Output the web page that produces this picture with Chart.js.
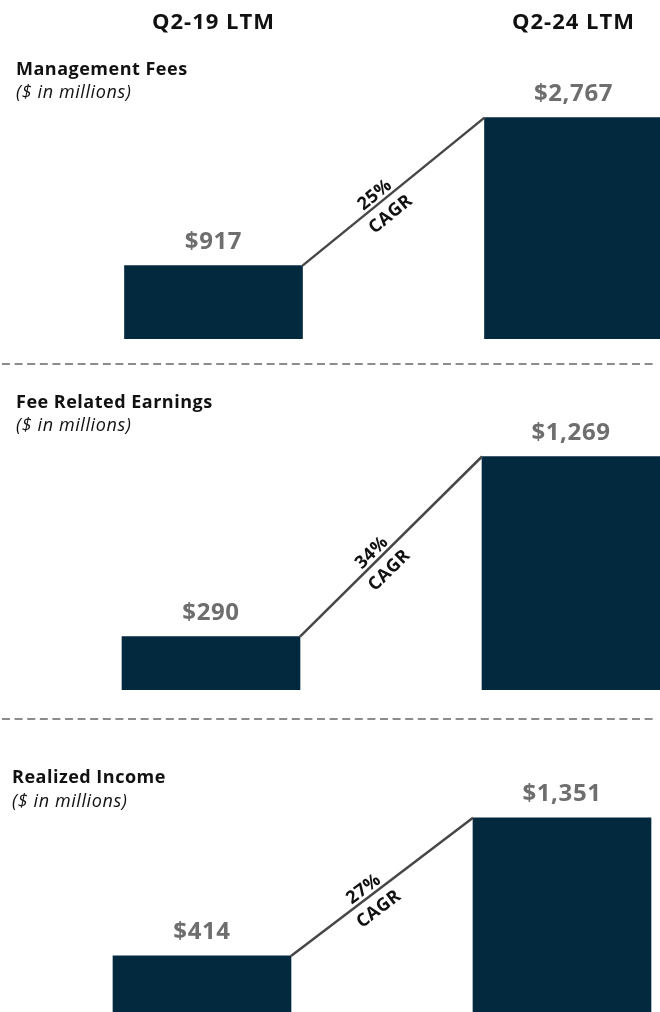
<!DOCTYPE html>
<html>
<head>
<meta charset="utf-8">
<title>Management Fees, Fee Related Earnings and Realized Income</title>
<script src="https://cdn.jsdelivr.net/npm/chart.js@4.4.1/dist/chart.umd.min.js"></script>
<style>
  html, body { margin: 0; padding: 0; background: #fff; width: 660px; height: 1012px; overflow: hidden; }
  canvas, svg { position: absolute; left: 0; top: 0; }
</style>
</head>
<body>
<canvas id="panel1" width="800" height="1030"></canvas>
<canvas id="panel2" width="800" height="1030"></canvas>
<canvas id="panel3" width="800" height="1030"></canvas>
<svg width="660" height="1012">
  <line x1="2" y1="364" x2="657" y2="364" stroke="#8c8c8c" stroke-width="2" stroke-dasharray="8 4.6"/>
  <line x1="2" y1="719" x2="657" y2="719" stroke="#8c8c8c" stroke-width="2" stroke-dasharray="8 4.6"/>
</svg>
<script>
// Periods compared and the LTM values ($ in millions)
const periods = ['Q2-19 LTM', 'Q2-24 LTM'];
const managementFees = [917, 2767];
const feeRelatedEarnings = [290, 1269];
const realizedIncome = [414, 1351];
const cagrLabels = ['25%', '34%', '27%'];
const panelTitles = ['Management Fees', 'Fee Related Earnings', 'Realized Income'];
const unitsNote = '($ in millions)';

const NAVY = '#03293f';
const FONT = '"Open Sans", "Noto Sans", sans-serif';

function fmt(v) { return '$' + v.toLocaleString('en-US'); }

function buildPanel(canvasId, values, cfg) {
  const overlay = {
    id: 'overlay_' + canvasId,
    afterDatasetsDraw(chart) {
      const ctx = chart.ctx;
      const bars = chart.getDatasetMeta(0).data;
      const a = bars[0], b = bars[1];
      const x0 = a.x + a.width / 2, y0 = a.y;
      const x1 = b.x - b.width / 2, y1 = b.y;

      ctx.save();
      // growth connector between the two bar tops
      ctx.strokeStyle = '#474747';
      ctx.lineWidth = 2.5;
      ctx.beginPath();
      ctx.moveTo(x0, y0);
      ctx.lineTo(x1, y1);
      ctx.stroke();

      // value labels above the bars
      ctx.fillStyle = '#6e6e6e';
      ctx.font = '700 24px ' + FONT;
      ctx.letterSpacing = '0.6px';
      ctx.textAlign = 'center';
      ctx.textBaseline = 'alphabetic';
      bars.forEach((bar, i) => ctx.fillText(fmt(values[i]), bar.x, bar.y - 17));

      // CAGR text along the connector
      ctx.save();
      const t = 0.43;
      ctx.translate(x0 + (x1 - x0) * t, y0 + (y1 - y0) * t);
      ctx.rotate(Math.atan2(y1 - y0, x1 - x0));
      ctx.fillStyle = '#111';
      ctx.font = '700 18px ' + FONT;
      ctx.letterSpacing = '0.4px';
      ctx.fillText(cfg.cagr, 0, -4);
      ctx.fillText('CAGR', 0, 21);
      ctx.restore();

      // panel title and units note
      ctx.textAlign = 'left';
      ctx.fillStyle = '#111';
      ctx.font = '700 18px ' + FONT;
      ctx.letterSpacing = '0.5px';
      ctx.fillText(cfg.title, cfg.textX, cfg.titleY);
      ctx.font = 'italic 400 18px ' + FONT;
      ctx.letterSpacing = '0.6px';
      ctx.fillText(unitsNote, cfg.textX, cfg.noteY);

      // period headers over the columns
      if (cfg.headers) {
        ctx.textAlign = 'center';
        ctx.font = '700 22px ' + FONT;
        ctx.letterSpacing = '1px';
        periods.forEach((p, i) => ctx.fillText(p, chart.scales.x.getPixelForTick(i), 29));
      }
      ctx.restore();
    }
  };

  return new Chart(document.getElementById(canvasId), {
    type: 'bar',
    data: {
      labels: periods,
      datasets: [{
        data: values,
        backgroundColor: NAVY,
        borderWidth: 0,
        barThickness: 178
      }]
    },
    options: {
      responsive: false,
      animation: false,
      devicePixelRatio: 1,
      layout: { padding: cfg.padding },
      plugins: { legend: { display: false }, tooltip: { enabled: false } },
      scales: {
        x: { display: false, offset: true },
        y: { display: false, min: 0, max: cfg.yMax }
      }
    },
    plugins: [overlay]
  });
}

buildPanel('panel1', managementFees, {
  title: panelTitles[0], cagr: cagrLabels[0], headers: true,
  textX: 16, titleY: 75, noteY: 98,
  yMax: 4000,
  padding: { left: 33.5, right: 46.5, top: 19, bottom: 691 }
});
buildPanel('panel2', feeRelatedEarnings, {
  title: panelTitles[1], cagr: cagrLabels[1], headers: false,
  textX: 16, titleY: 408, noteY: 431,
  yMax: 2000,
  padding: { left: 31, right: 49, top: 322, bottom: 340 }
});
buildPanel('panel3', realizedIncome, {
  title: panelTitles[2], cagr: cagrLabels[2], headers: false,
  textX: 12, titleY: 783, noteY: 807,
  yMax: 2000,
  padding: { left: 22, right: 58, top: 722, bottom: 13 }
});
</script>
</body>
</html>
